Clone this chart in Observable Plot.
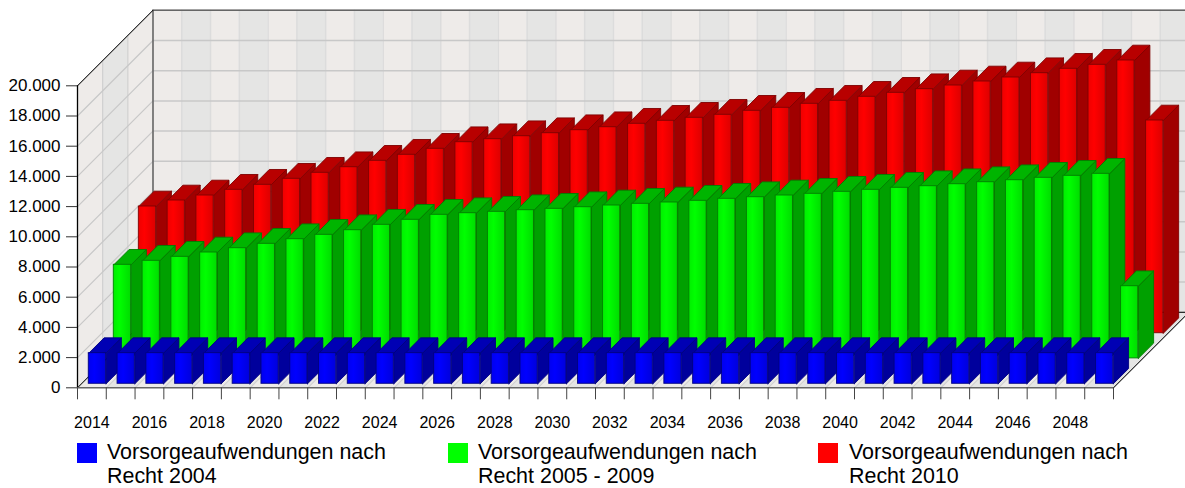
<!DOCTYPE html>
<html><head><meta charset="utf-8">
<script src="https://cdn.jsdelivr.net/npm/d3@7"></script>
<script src="https://cdn.jsdelivr.net/npm/@observablehq/plot@0.6"></script>
<style>
html,body{margin:0;padding:0;background:#fff;overflow:hidden;font-family:"Liberation Sans",Arial,sans-serif}
#legend{position:relative;height:52px}
.sw{position:absolute;top:7px;width:20px;height:20px}
.lb{position:absolute;top:7px;font-size:21.45px;line-height:19px;color:#000;white-space:nowrap}
.lb div+div{margin-top:4.5px}
</style></head><body><div id="chart"></div><div id="legend"></div>
<script>
const years = [2014,2015,2016,2017,2018,2019,2020,2021,2022,2023,2024,2025,2026,2027,2028,2029,2030,2031,2032,2033,2034,2035,2036,2037,2038,2039,2040,2041,2042,2043,2044,2045,2046,2047,2048,2049];
const tickYears = [2014,2016,2018,2020,2022,2024,2026,2028,2030,2032,2034,2036,2038,2040,2042,2044,2046,2048];
const yTicks = [0,2000,4000,6000,8000,10000,12000,14000,16000,18000,20000];
const blue = [2030,2030,2030,2030,2030,2030,2030,2030,2030,2030,2030,2030,2030,2030,2030,2030,2030,2030,2030,2030,2030,2030,2030,2030,2030,2030,2030,2030,2030,2030,2030,2030,2030,2030,2030,2030];
const green = [6199,6464,6728,7013,7298,7589,7894,8185,8490,8848,9179,9510,9616,9709,9815,9907,10013,10126,10238,10325,10437,10570,10675,10788,10901,11033,11166,11298,11404,11536,11669,11801,11960,12093,12225,4781];
const red = [8391,8788,9119,9497,9828,10225,10623,10993,11417,11815,12212,12649,12848,13046,13245,13444,13642,13868,14066,14265,14464,14728,14927,15192,15391,15656,15920,16159,16404,16669,16934,17219,17510,17775,18060,14086];
const names = [["Vorsorgeaufwendungen nach","Recht 2004"],["Vorsorgeaufwendungen nach","Recht 2005 - 2009"],["Vorsorgeaufwendungen nach","Recht 2010"]];

// oblique projection, in data units
const DX = 2.623, DY = 5000;        // full depth of the floor
const barW = 0.6, barDX = 0.532, barDY = 1013; // bar width and depth
const series = [
  {key:"r", values:red,   row:2, rx:2.132, ry:3616, top:"#b80000", side:"#a00000", edge:"#800000", hi:"#ff0000", lo:"#dc0000", mid:"#ee0000"},
  {key:"g", values:green, row:1, rx:1.262, ry:1947, top:"#00b400", side:"#00a000", edge:"#008000", hi:"#00ff00", lo:"#00dc00", mid:"#00ee00"},
  {key:"b", values:blue,  row:0, rx:0.3926, ry:265, top:"#0000b4", side:"#00009c", edge:"#000080", hi:"#0000ff", lo:"#0000dc", mid:"#0000ee"}
];
const X0 = years[0], X1 = X0 + years.length, YMAX = yTicks[yTicks.length-1];
const poly = (id, pts, extra) => pts.concat([pts[0]]).map(([x,y]) => ({id, x, y, ...extra}));

const stripeA = "#eeebe9", stripeB = "#e5e5e4";
const wallRows = years.map((yr,i) => ({yr, i, fill: i%2 ? stripeB : stripeA}));
const boundaries = years.concat([X1]);
const floorRows = wallRows.flatMap(d => poly("f"+d.i,
  [[d.yr,0],[d.yr+1,0],[d.yr+1+DX,DY],[d.yr+DX,DY]], {fill:d.fill}));
const sideRows = [0,1,2].flatMap(k => poly("s"+k,
  [[X0+DX*k/3,DY*k/3],[X0+DX*(k+1)/3,DY*(k+1)/3],[X0+DX*(k+1)/3,YMAX+DY*(k+1)/3],[X0+DX*k/3,YMAX+DY*k/3]],
  {fill:k===1?stripeB:stripeA}));

const sideWallGrid = yTicks.flatMap(v => [{id:v,x:X0,y:v},{id:v,x:X0+DX,y:v+DY}]);
const sideWallVert = [1,2].flatMap(k => [{id:k,x:X0+DX*k/3,y:DY*k/3},{id:k,x:X0+DX*k/3,y:YMAX+DY*k/3}]);
const floorGrid = boundaries.flatMap(b => [{id:b,x:b,y:0},{id:b,x:b+DX,y:DY}]);

const barMarks = series.flatMap(s => {
  const rows = years.map((yr,i) => ({yr, v:s.values[i], x1:yr+s.rx, x2:yr+s.rx+barW, y1:s.ry, y2:s.ry+s.values[i]}));
  const faces = rows.flatMap((d,i) => [
    ...poly(s.key+"s"+i, [[d.x2,d.y1],[d.x2+barDX,d.y1+barDY],[d.x2+barDX,d.y2+barDY],[d.x2,d.y2]], {fill:s.side}),
    ...poly(s.key+"t"+i, [[d.x1,d.y2],[d.x2,d.y2],[d.x2+barDX,d.y2+barDY],[d.x1+barDX,d.y2+barDY]], {fill:s.top})
  ]);
  return [
    Plot.line(faces, {x:"x", y:"y", z:"id", fill:"fill", stroke:s.edge, strokeWidth:1, strokeOpacity:0.9}),
    Plot.rect(rows, {x1:"x1", x2:"x2", y1:"y1", y2:"y2", fill:`url(#grad-${s.key})`, stroke:s.edge, strokeWidth:1, strokeOpacity:0.9})
  ];
});

const plot = Plot.plot({
  width:1185, height:436,
  marginLeft:77, marginRight:72, marginTop:85.3, marginBottom:48.7,
  style:{fontFamily:'"Liberation Sans",Arial,sans-serif', fontSize:"16px", background:"#fff", color:"#000"},
  x:{type:"linear", domain:[X0,X1]},
  y:{type:"linear", domain:[0,YMAX]},
  color:{type:"identity"},
  marks:[
    // back wall
    Plot.rect(wallRows, {x1:d=>d.yr+DX, x2:d=>d.yr+1+DX, y1:DY, y2:YMAX+DY, fill:"fill"}),
    Plot.ruleX(boundaries, {x:d=>d+DX, y1:DY, y2:YMAX+DY, stroke:"#dcdcdc", strokeWidth:1.5}),
    Plot.ruleY(yTicks, {y:d=>d+DY, x1:X0+DX, x2:X1+DX, stroke:"#c8c8c8", strokeWidth:1.5}),
    // side wall
    Plot.line(sideRows, {x:"x", y:"y", z:"id", fill:"fill", stroke:"none"}),
    Plot.line(sideWallVert, {x:"x", y:"y", z:"id", stroke:"#d0d0d0", strokeWidth:1.2}),
    Plot.line(sideWallGrid, {x:"x", y:"y", z:"id", stroke:"#c8c8c8", strokeWidth:1.2}),
    // floor
    Plot.line(floorRows, {x:"x", y:"y", z:"id", fill:"fill", stroke:"none"}),
    Plot.line(floorGrid, {x:"x", y:"y", z:"id", stroke:"#d0d0d0", strokeWidth:1.2}),
    // frame edges
    Plot.ruleX([X0+DX], {x:d=>d, y1:DY, y2:YMAX+DY, stroke:"#666", strokeWidth:1.6}),
    Plot.ruleY([YMAX+DY], {y:d=>d, x1:X0+DX, x2:X1+DX, stroke:"#666", strokeWidth:1.6}),
    Plot.ruleY([DY], {y:d=>d, x1:X1, x2:X1+DX, stroke:"#000", strokeWidth:1}),
    Plot.line([{id:"a",x:X0,y:YMAX},{id:"a",x:X0+DX,y:YMAX+DY},{id:"b",x:X0,y:0},{id:"b",x:X0+DX,y:DY},{id:"c",x:X1,y:0},{id:"c",x:X1+DX,y:DY}],
      {x:"x", y:"y", z:"id", stroke:"#000", strokeWidth:1}),
    ...barMarks,
    // axes
    Plot.ruleX([X0], {x:d=>d, y1:0, y2:YMAX, stroke:"#000", strokeWidth:1.3}),
    Plot.ruleY([0], {y:d=>d, x1:X0, x2:X1, stroke:"#666", strokeWidth:1.6}),
    Plot.axisY({ticks:yTicks, tickSize:11, tickPadding:6, stroke:"#333", fontSize:17,
      tickFormat:d=>d3.format(",")(d).replace(/,/g,"."), label:null}),
    Plot.axisX({ticks:boundaries, tickSize:12, tickFormat:()=>"", stroke:"#444", label:null}),
    Plot.axisX({ticks:tickYears.map(d=>d+0.5), tickSize:0, tickPadding:29, fontSize:16,
      tickFormat:d=>String(Math.floor(d)), label:null})
  ]
});
const defs = d3.select(plot).insert("defs",":first-child");
for (const s of series) {
  const g = defs.append("linearGradient").attr("id","grad-"+s.key).attr("x1","0").attr("x2","1").attr("y1","0").attr("y2","0");
  g.append("stop").attr("offset","0").attr("stop-color",s.mid);
  g.append("stop").attr("offset","0.35").attr("stop-color",s.hi);
  g.append("stop").attr("offset","1").attr("stop-color",s.lo);
}
document.getElementById("chart").appendChild(plot);

const legend = d3.select("#legend");
const swatches = ["#0000ff","#00ff00","#ff0000"], swLeft = [77,448,818], lbLeft = [107,478,849];
names.forEach((n,i)=>{
  legend.append("div").attr("class","sw").style("left",swLeft[i]+"px").style("background",swatches[i]);
  const lb = legend.append("div").attr("class","lb").style("left",lbLeft[i]+"px");
  n.forEach(t => lb.append("div").text(t));
});
</script></body></html>
